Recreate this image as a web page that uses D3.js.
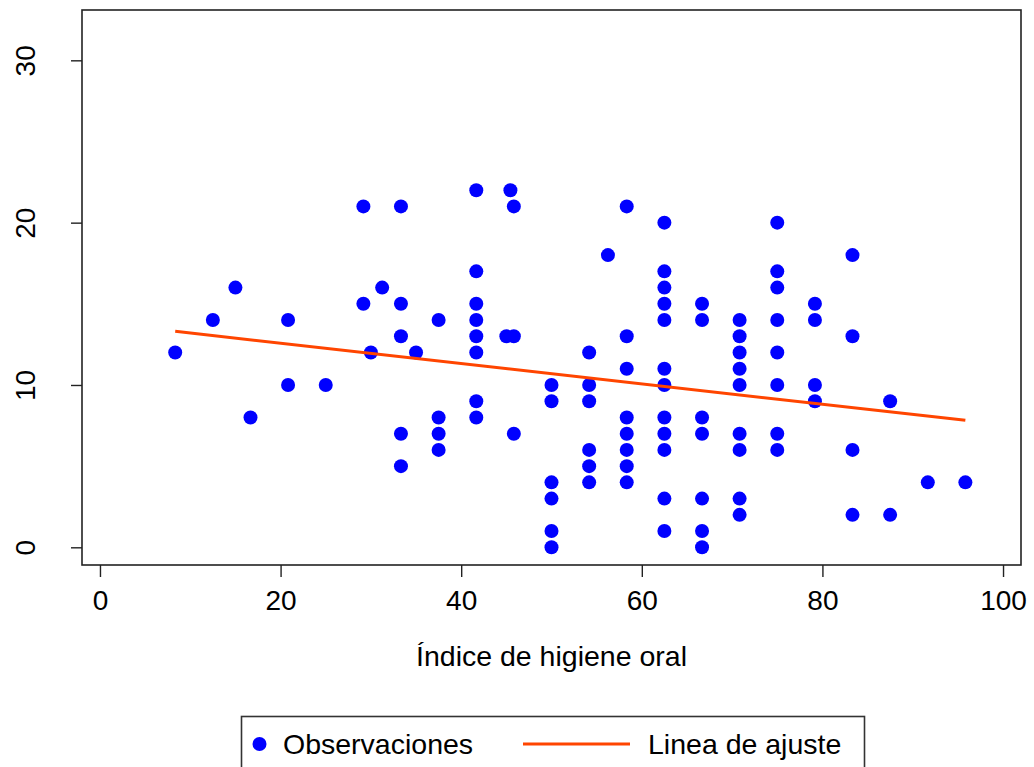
<!DOCTYPE html>
<html>
<head>
<meta charset="utf-8">
<script src="https://cdn.jsdelivr.net/npm/d3@7"></script>
<style>
  html, body { margin: 0; padding: 0; background: #ffffff; }
  svg { display: block; font-family: "Liberation Sans", Arial, sans-serif; }
</style>
</head>
<body>
<svg id="chart" width="1034" height="767"></svg>
<script>
// Observaciones: índice de higiene oral (x) y valor observado (y)
const indiceHigiene = [
  8.33,
  12.5,
  15,
  16.67,
  20.83, 20.83,
  25,
  29.17, 29.17,
  30,
  31.25,
  33.33, 33.33, 33.33, 33.33, 33.33,
  35,
  37.5, 37.5, 37.5, 37.5,
  41.67, 41.67, 41.67, 41.67, 41.67, 41.67, 41.67, 41.67,
  45,
  45.45,
  45.83, 45.83, 45.83,
  50, 50, 50, 50, 50, 50,
  54.17, 54.17, 54.17, 54.17, 54.17, 54.17,
  56.25,
  58.33, 58.33, 58.33, 58.33, 58.33, 58.33, 58.33, 58.33,
  62.5, 62.5, 62.5, 62.5, 62.5, 62.5, 62.5, 62.5, 62.5, 62.5, 62.5, 62.5,
  66.67, 66.67, 66.67, 66.67, 66.67, 66.67, 66.67,
  70.83, 70.83, 70.83, 70.83, 70.83, 70.83, 70.83, 70.83, 70.83,
  75, 75, 75, 75, 75, 75, 75, 75,
  79.17, 79.17, 79.17, 79.17,
  83.33, 83.33, 83.33, 83.33,
  87.5, 87.5,
  91.67,
  95.83
];
const valores = [
  12,
  14,
  16,
  8,
  14, 10,
  10,
  21, 15,
  12,
  16,
  21, 15, 13, 7, 5,
  12,
  14, 8, 7, 6,
  22, 17, 15, 14, 13, 12, 9, 8,
  13,
  22,
  21, 13, 7,
  10, 9, 4, 3, 1, 0,
  12, 10, 9, 6, 5, 4,
  18,
  21, 13, 11, 8, 7, 6, 5, 4,
  20, 17, 16, 15, 14, 11, 10, 8, 7, 6, 3, 1,
  15, 14, 8, 7, 3, 1, 0,
  14, 13, 12, 11, 10, 7, 6, 3, 2,
  20, 17, 16, 14, 12, 10, 7, 6,
  15, 14, 10, 9,
  18, 13, 6, 2,
  9, 2,
  4,
  4
];

// Recta de ajuste lineal
const ajusteIntercepto = 13.83;
const ajustePendiente = -0.0627;

// Marcas de los ejes
const ticksX = [0, 20, 40, 60, 80, 100];
const ticksY = [0, 10, 20, 30];

const etiquetaX = "Índice de higiene oral";
const leyenda = ["Observaciones", "Linea de ajuste"];

const colorPuntos = "#0000ff";
const colorLinea = "#ff4500";

const svg = d3.select("#chart");

// Región del gráfico
const plot = { left: 82, top: 10, right: 1021, bottom: 565 };

const x = d3.scaleLinear().domain([-1.99, 101.99]).range([plot.left, plot.right]);
const y = d3.scaleLinear().domain([-1.09, 33.1]).range([plot.bottom, plot.top]);

const datos = indiceHigiene.map((v, i) => ({ x: v, y: valores[i] }));

// Puntos
svg.append("g")
  .selectAll("circle")
  .data(datos)
  .join("circle")
  .attr("cx", d => x(d.x))
  .attr("cy", d => y(d.y))
  .attr("r", 7)
  .attr("fill", colorPuntos);

// Recta de ajuste, entre el mínimo y el máximo de x
const [xMin, xMax] = d3.extent(indiceHigiene);
const linea = d3.line().x(d => x(d)).y(d => y(ajusteIntercepto + ajustePendiente * d));
svg.append("path")
  .datum([xMin, xMax])
  .attr("d", linea)
  .attr("fill", "none")
  .attr("stroke", colorLinea)
  .attr("stroke-width", 3);

// Marco
svg.append("rect")
  .attr("x", plot.left)
  .attr("y", plot.top)
  .attr("width", plot.right - plot.left)
  .attr("height", plot.bottom - plot.top)
  .attr("fill", "none")
  .attr("stroke", "#222")
  .attr("stroke-width", 1.6);

// Eje X
const ejeX = svg.append("g")
  .attr("transform", `translate(0,${plot.bottom})`)
  .call(d3.axisBottom(x).tickValues(ticksX).tickSize(12).tickSizeOuter(0).tickPadding(8));
ejeX.select(".domain").remove();
ejeX.selectAll(".tick line").attr("stroke", "#222").attr("stroke-width", 1.4);
ejeX.selectAll(".tick text")
  .attr("font-size", 28)
  .attr("font-family", "Liberation Sans, Arial, sans-serif")
  .attr("fill", "#000")
  .attr("dy", null)
  .attr("y", 45);

// Eje Y con etiquetas giradas
const ejeY = svg.append("g")
  .attr("transform", `translate(${plot.left},0)`)
  .call(d3.axisLeft(y).tickValues(ticksY).tickSize(11).tickSizeOuter(0).tickPadding(0));
ejeY.select(".domain").remove();
ejeY.selectAll(".tick line").attr("stroke", "#222").attr("stroke-width", 1.4);
ejeY.selectAll(".tick text")
  .attr("font-size", 28)
  .attr("font-family", "Liberation Sans, Arial, sans-serif")
  .attr("fill", "#000")
  .attr("text-anchor", "middle")
  .attr("x", null)
  .attr("dy", null)
  .attr("transform", "translate(-47,0) rotate(-90)");

// Título del eje X
svg.append("text")
  .attr("x", (plot.left + plot.right) / 2)
  .attr("y", 666)
  .attr("text-anchor", "middle")
  .attr("font-size", 28.5)
  .attr("fill", "#000")
  .text(etiquetaX);

// Leyenda
const ley = svg.append("g");
ley.append("rect")
  .attr("x", 241.5)
  .attr("y", 716.5)
  .attr("width", 623)
  .attr("height", 70)
  .attr("fill", "#fff")
  .attr("stroke", "#333")
  .attr("stroke-width", 1.6);
ley.append("circle")
  .attr("cx", 259.5)
  .attr("cy", 744)
  .attr("r", 7)
  .attr("fill", colorPuntos);
ley.append("text")
  .attr("x", 283)
  .attr("y", 754)
  .attr("font-size", 28.5)
  .attr("fill", "#000")
  .text(leyenda[0]);
ley.append("line")
  .attr("x1", 523)
  .attr("x2", 630)
  .attr("y1", 744)
  .attr("y2", 744)
  .attr("stroke", colorLinea)
  .attr("stroke-width", 3);
ley.append("text")
  .attr("x", 648)
  .attr("y", 754)
  .attr("font-size", 28.5)
  .attr("fill", "#000")
  .text(leyenda[1]);
</script>
</body>
</html>
